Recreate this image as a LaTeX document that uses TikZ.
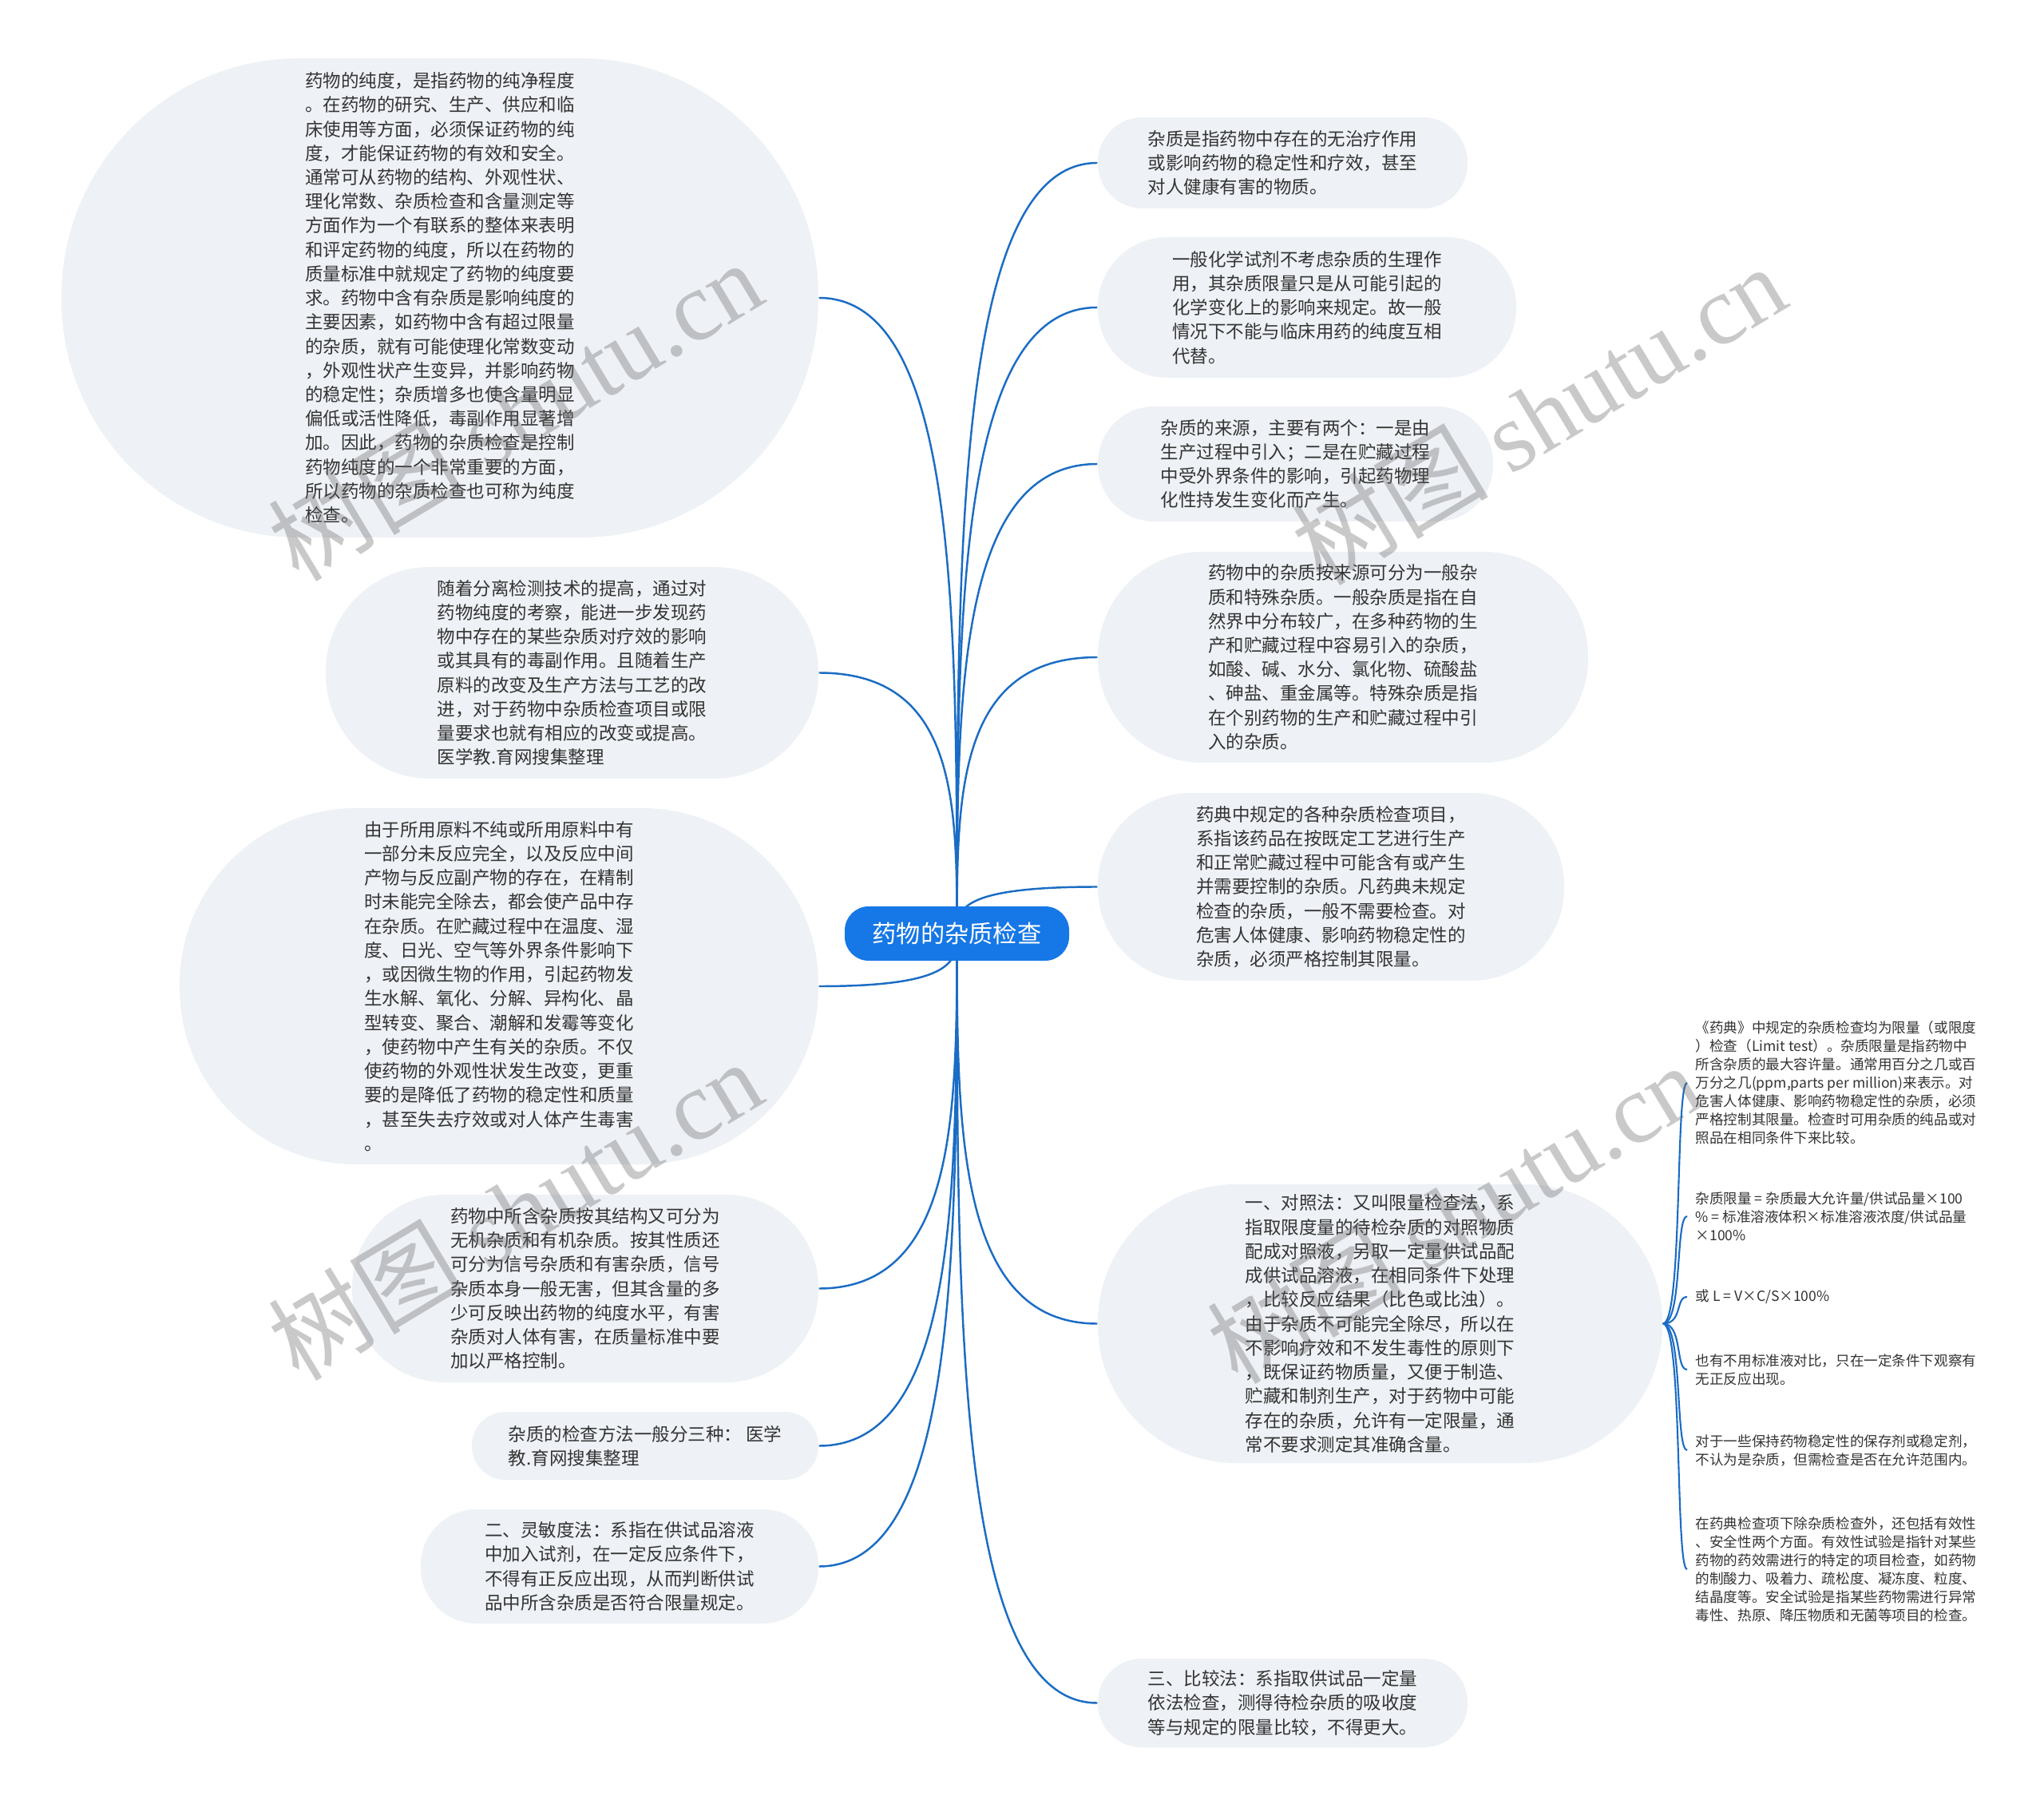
\documentclass[tikz,border=0pt]{standalone}
\usepackage{fontspec}
\setmainfont{Noto Sans CJK SC}
\newfontfamily\wmlatin{Liberation Serif}
\usetikzlibrary{calc,backgrounds}
\definecolor{linkblue}{RGB}{26,108,196}
\definecolor{rootblue}{RGB}{22,119,230}
\definecolor{topicbg}{RGB}{238,241,245}
\definecolor{inkgray}{RGB}{51,51,51}
\begin{document}
\begin{tikzpicture}[
    topic/.style={fill=topicbg, text=inkgray, align=left, inner sep=0pt, font=\fontsize{6.4pt}{8.6pt}\selectfont},
    leaf/.style={anchor=west, text=inkgray, align=left, inner xsep=0.1cm, inner ysep=0pt, font=\fontsize{5pt}{6.55pt}\selectfont},
    hub/.style={fill=rootblue, text=white, rounded corners=0.3cm, minimum width=2.81cm, minimum height=0.68cm, font=\fontsize{8.6pt}{10pt}\selectfont},
    branch/.style={draw=linkblue, line width=0.7pt, to path={.. controls ($(\tikztostart)!0.5!(\tikztostart |- \tikztotarget)$) and (\tikztostart |- \tikztotarget) .. (\tikztotarget)}},
    twig/.style={draw=linkblue, line width=0.6pt},
    watermark/.style={rotate=31, text=black!60, text opacity=0.35, font=\fontsize{35pt}{35pt}\selectfont},
  ]
  \useasboundingbox (0,0) rectangle (25.6,-22.64);

  \node[hub] (root) at (11.985,-11.69) {药物的杂质检查};

  % left side
  \node[topic, minimum width=9.48cm, minimum height=6cm, rounded corners=2.98cm] (l1) at (5.51,-3.73) {药物的纯度，是指药物的纯净程度\\。在药物的研究、生产、供应和临\\床使用等方面，必须保证药物的纯\\度，才能保证药物的有效和安全。\\通常可从药物的结构、外观性状、\\理化常数、杂质检查和含量测定等\\方面作为一个有联系的整体来表明\\和评定药物的纯度，所以在药物的\\质量标准中就规定了药物的纯度要\\求。药物中含有杂质是影响纯度的\\主要因素，如药物中含有超过限量\\的杂质，就有可能使理化常数变动\\，外观性状产生变异，并影响药物\\的稳定性；杂质增多也使含量明显\\偏低或活性降低，毒副作用显著增\\加。因此，药物的杂质检查是控制\\药物纯度的一个非常重要的方面，\\所以药物的杂质检查也可称为纯度\\检查。};
  \node[topic, minimum width=6.17cm, minimum height=2.65cm, rounded corners=1.31cm] (l2) at (7.165,-8.425) {随着分离检测技术的提高，通过对\\药物纯度的考察，能进一步发现药\\物中存在的某些杂质对疗效的影响\\或其具有的毒副作用。且随着生产\\原料的改变及生产方法与工艺的改\\进，对于药物中杂质检查项目或限\\量要求也就有相应的改变或提高。\\医学教.育网搜集整理};
  \node[topic, minimum width=8cm, minimum height=4.46cm, rounded corners=2.21cm] (l3) at (6.25,-12.35) {由于所用原料不纯或所用原料中有\\一部分未反应完全，以及反应中间\\产物与反应副产物的存在，在精制\\时未能完全除去，都会使产品中存\\在杂质。在贮藏过程中在温度、湿\\度、日光、空气等外界条件影响下\\，或因微生物的作用，引起药物发\\生水解、氧化、分解、异构化、晶\\型转变、聚合、潮解和发霉等变化\\，使药物中产生有关的杂质。不仅\\使药物的外观性状发生改变，更重\\要的是降低了药物的稳定性和质量\\，甚至失去疗效或对人体产生毒害\\。};
  \node[topic, minimum width=5.84cm, minimum height=2.35cm, rounded corners=1.16cm] (l4) at (7.33,-16.135) {药物中所含杂质按其结构又可分为\\无机杂质和有机杂质。按其性质还\\可分为信号杂质和有害杂质，信号\\杂质本身一般无害，但其含量的多\\少可反映出药物的纯度水平，有害\\杂质对人体有害，在质量标准中要\\加以严格控制。};
  \node[topic, minimum width=4.34cm, minimum height=0.85cm, rounded corners=0.42cm] (l5) at (8.08,-18.105) {杂质的检查方法一般分三种： 医学\\教.育网搜集整理};
  \node[topic, minimum width=4.98cm, minimum height=1.43cm, rounded corners=0.7cm] (l6) at (7.76,-19.615) {二、灵敏度法：系指在供试品溶液\\中加入试剂，在一定反应条件下，\\不得有正反应出现，从而判断供试\\品中所含杂质是否符合限量规定。};

  % right side
  \node[topic, minimum width=4.63cm, minimum height=1.14cm, rounded corners=0.56cm] (r1) at (16.065,-2.04) {杂质是指药物中存在的无治疗作用\\或影响药物的稳定性和疗效，甚至\\对人健康有害的物质。};
  \node[topic, minimum width=5.24cm, minimum height=1.76cm, rounded corners=0.87cm] (r2) at (16.37,-3.85) {一般化学试剂不考虑杂质的生理作\\用，其杂质限量只是从可能引起的\\化学变化上的影响来规定。故一般\\情况下不能与临床用药的纯度互相\\代替。};
  \node[topic, minimum width=4.95cm, minimum height=1.44cm, rounded corners=0.71cm] (r3) at (16.225,-5.81) {杂质的来源，主要有两个：一是由\\生产过程中引入；二是在贮藏过程\\中受外界条件的影响，引起药物理\\化性持发生变化而产生。};
  \node[topic, minimum width=6.14cm, minimum height=2.64cm, rounded corners=1.31cm] (r4) at (16.82,-8.23) {药物中的杂质按来源可分为一般杂\\质和特殊杂质。一般杂质是指在自\\然界中分布较广，在多种药物的生\\产和贮藏过程中容易引入的杂质，\\如酸、碱、水分、氯化物、硫酸盐\\、砷盐、重金属等。特殊杂质是指\\在个别药物的生产和贮藏过程中引\\入的杂质。};
  \node[topic, minimum width=5.84cm, minimum height=2.35cm, rounded corners=1.16cm] (r5) at (16.67,-11.105) {药典中规定的各种杂质检查项目，\\系指该药品在按既定工艺进行生产\\和正常贮藏过程中可能含有或产生\\并需要控制的杂质。凡药典未规定\\检查的杂质，一般不需要检查。对\\危害人体健康、影响药物稳定性的\\杂质，必须严格控制其限量。};
  \node[topic, minimum width=7.07cm, minimum height=3.49cm, rounded corners=1.73cm] (r6) at (17.285,-16.575) {一、对照法：又叫限量检查法，系\\指取限度量的待检杂质的对照物质\\配成对照液，另取一定量供试品配\\成供试品溶液，在相同条件下处理\\，比较反应结果（比色或比浊）。\\由于杂质不可能完全除尽，所以在\\不影响疗效和不发生毒性的原则下\\，既保证药物质量，又便于制造、\\贮藏和制剂生产，对于药物中可能\\存在的杂质，允许有一定限量，通\\常不要求测定其准确含量。};
  \node[topic, minimum width=4.63cm, minimum height=1.11cm, rounded corners=0.55cm] (r7) at (16.065,-21.325) {三、比较法：系指取供试品一定量\\依法检查，测得待检杂质的吸收度\\等与规定的限量比较，不得更大。};

  % notes under the first method
  \node[leaf] (f1) at (21.13,-13.56) {《药典》中规定的杂质检查均为限量（或限度\\）检查（Limit test）。杂质限量是指药物中\\所含杂质的最大容许量。通常用百分之几或百\\万分之几(ppm,parts per million)来表示。对\\危害人体健康、影响药物稳定性的杂质，必须\\严格控制其限量。检查时可用杂质的纯品或对\\照品在相同条件下来比较。};
  \node[leaf] (f2) at (21.13,-15.23) {杂质限量 = 杂质最大允许量/供试品量×100\\\% = 标准溶液体积×标准溶液浓度/供试品量\\×100\%};
  \node[leaf] (f3) at (21.13,-16.24) {或 L = V×C/S×100\%};
  \node[leaf] (f4) at (21.13,-17.15) {也有不用标准液对比，只在一定条件下观察有\\无正反应出现。};
  \node[leaf] (f5) at (21.13,-18.16) {对于一些保持药物稳定性的保存剂或稳定剂，\\不认为是杂质，但需检查是否在允许范围内。};
  \node[leaf] (f6) at (21.13,-19.65) {在药典检查项下除杂质检查外，还包括有效性\\、安全性两个方面。有效性试验是指针对某些\\药物的药效需进行的特定的项目检查，如药物\\的制酸力、吸着力、疏松度、凝冻度、粒度、\\结晶度等。安全试验是指某些药物需进行异常\\毒性、热原、降压物质和无菌等项目的检查。};

  \begin{pgfonlayer}{background}
    \fill[white] (0,0) rectangle (25.6,-22.64);
    \foreach \n in {l1,l2,l3,l4,l5,l6}
      \draw[branch] (root.center) to (\n.east);
    \foreach \n in {r1,r2,r3,r4,r5,r6,r7}
      \draw[branch] (root.center) to (\n.west);
    \foreach \f in {f1,f2,f3,f4,f5,f6}
      \draw[twig] (r6.east) .. controls +(0.25,0) and +(-0.15,0) .. (\f.west);
  \end{pgfonlayer}

  % watermarks
  \node[watermark] (wm1) at (6.45,-5.14) {树图 {\wmlatin shutu.cn}};
  \node[watermark] (wm2) at (19.27,-5.19) {树图 {\wmlatin shutu.cn}};
  \node[watermark] (wm3) at (6.45,-15.15) {树图 {\wmlatin shutu.cn}};
  \node[watermark] (wm4) at (18.21,-15.19) {树图 {\wmlatin shutu.cn}};
\end{tikzpicture}
\end{document}
